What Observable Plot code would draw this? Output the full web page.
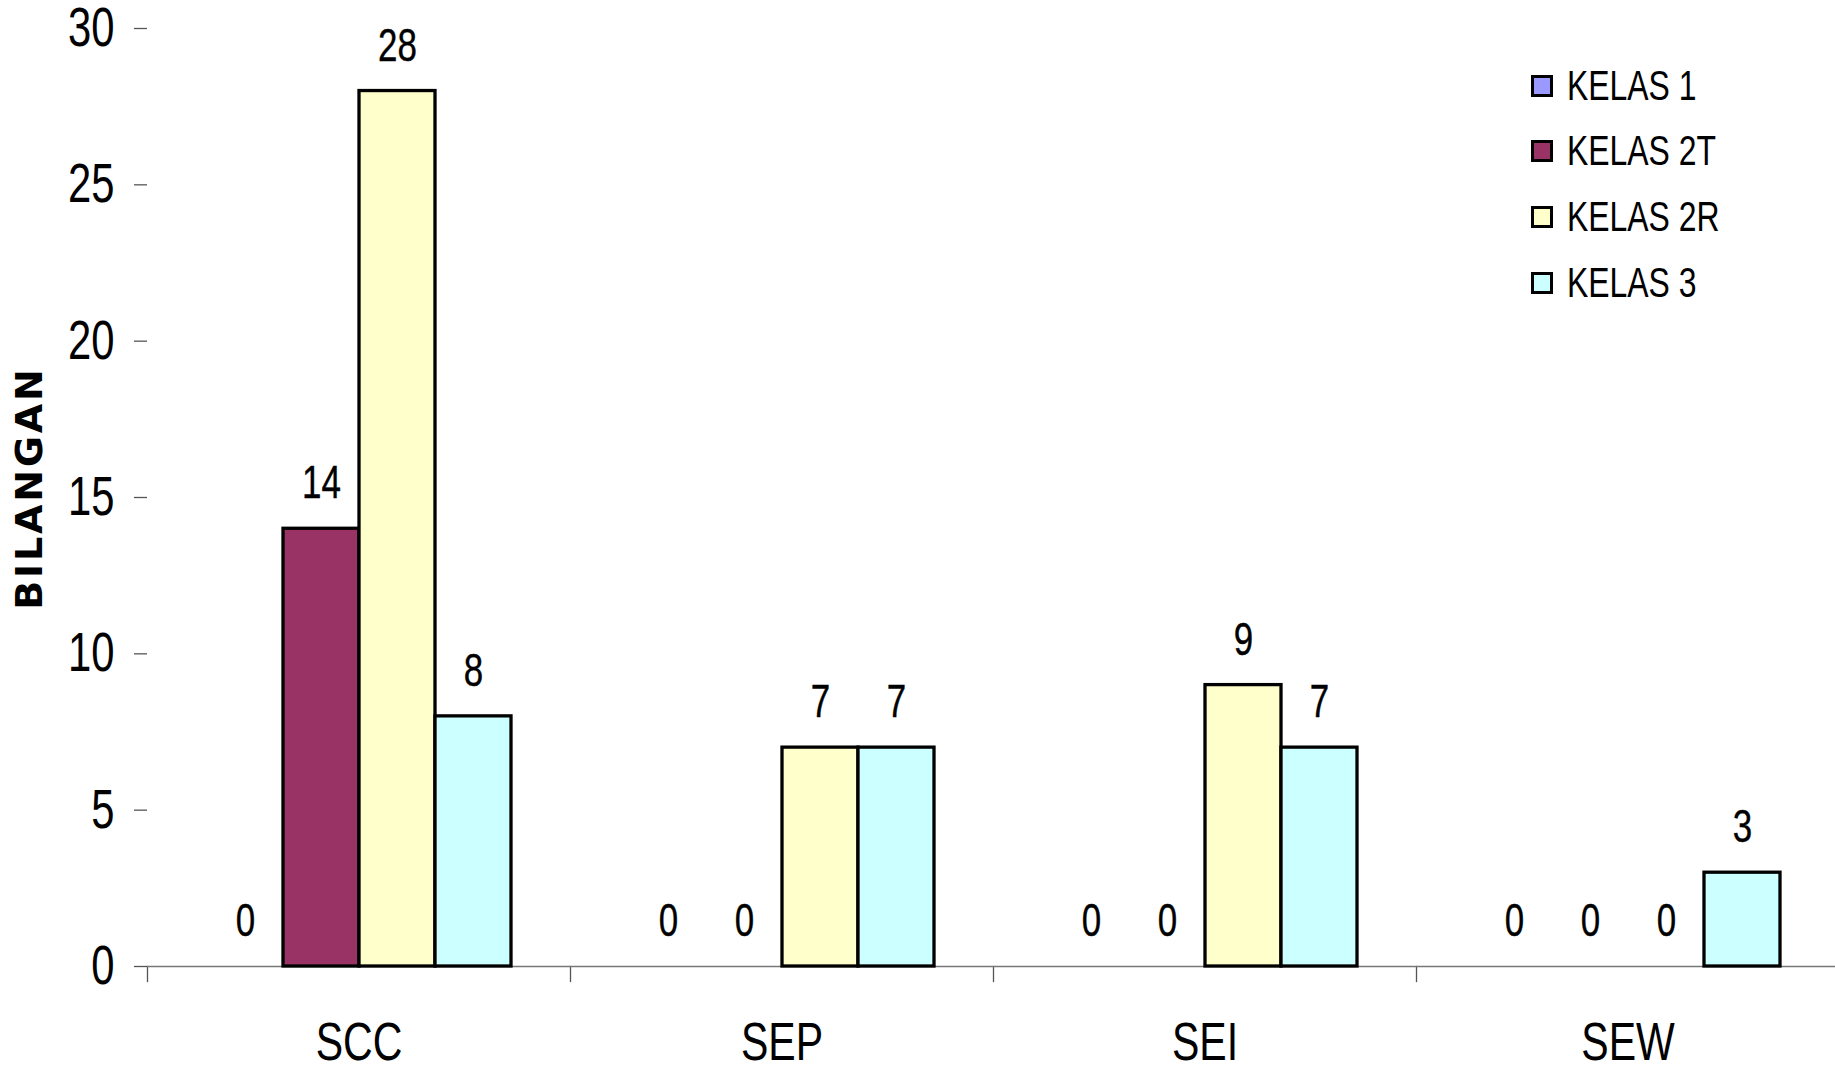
<!DOCTYPE html>
<html>
<head>
<meta charset="utf-8">
<script src="https://cdn.jsdelivr.net/npm/d3@7"></script>
<script src="https://cdn.jsdelivr.net/npm/@observablehq/plot@0.6"></script>
<style>
  html, body { margin: 0; padding: 0; background: #fff; }
  #wrap { position: relative; width: 1835px; height: 1071px; overflow: hidden; }
  #wrap svg { position: absolute; left: 0; top: 0; overflow: visible; }
  .ylab { position: absolute; left: 29px; top: 488px; transform: translate(-50%, -50%) rotate(-90deg);
          font-family: "DejaVu Sans", Verdana, sans-serif; font-weight: bold; font-size: 38px; white-space: nowrap; letter-spacing: 2.8px; }
  .legend { position: absolute; left: 1531px; top: 53px; font-family: "Liberation Sans", Arial, sans-serif; font-size: 42px; }
  .legend .row { display: flex; align-items: center; height: 65.6px; }
  .legend .sw { width: 22px; height: 22px; box-sizing: border-box; border: 3px solid #000; margin-right: 14px; flex: none; }
  .legend .lt { display: inline-block; transform: scaleX(0.76); transform-origin: left center; white-space: nowrap; }
</style>
</head>
<body>
<div id="wrap"></div>
<script>
const categories = ["SCC", "SEP", "SEI", "SEW"];
const series = ["KELAS 1", "KELAS 2T", "KELAS 2R", "KELAS 3"];
const colors = ["#9999FF", "#993366", "#FFFFCC", "#CCFFFF"];
const valuesKelas1  = [0, 0, 0, 0];
const valuesKelas2T = [14, 0, 0, 0];
const valuesKelas2R = [28, 7, 9, 0];
const valuesKelas3  = [8, 7, 7, 3];
const yTicks = [0, 5, 10, 15, 20, 25, 30];
const yLabel = "BILANGAN";

const seriesValues = [valuesKelas1, valuesKelas2T, valuesKelas2R, valuesKelas3];
const data = [];
categories.forEach((c, i) => series.forEach((s, j) => data.push({category: c, series: s, value: seriesValues[j][i]})));

const font = '"Liberation Sans", Arial, sans-serif';
const W = 1835, H = 1071, mTop = 28, mBottom = 105;

const chart = Plot.plot({
  width: W, height: H,
  marginLeft: 146, marginRight: -4, marginTop: mTop, marginBottom: mBottom,
  style: {fontFamily: font, background: "#fff", color: "#000", overflow: "visible"},
  fx: {domain: categories, padding: 0, axis: null, label: null},
  x: {domain: series, paddingInner: 0, paddingOuter: 0.77, axis: null},
  y: {domain: [0, 30], axis: null},
  color: {domain: series, range: colors},
  marks: [
    Plot.frame({anchor: "left", stroke: "#555", strokeWidth: 1.3, insetTop: H - mTop - mBottom, insetBottom: -15}),
    Plot.ruleY([0], {stroke: "#777", strokeWidth: 1.3}),
    Plot.barY(data.filter(d => d.value > 0), {x: "series", y: "value", fx: "category", fill: "series", stroke: "#000", strokeWidth: 3.3}),
    Plot.text(data, {x: "series", y: "value", fx: "category", text: d => String(d.value), dy: -45, fontSize: 46, fill: "#000", stroke: "#000", strokeWidth: 0.4}),
    Plot.axisY({ticks: yTicks, tickSize: 13, tickPadding: 20, fontSize: 55, label: null, line: true, stroke: "#555", strokeWidth: 1.3, tickFormat: d => String(d)}),
    Plot.axisFx({anchor: "bottom", tickSize: 0, tickPadding: 55, fontSize: 54, label: null})
  ]
});

// condense glyphs horizontally (narrow face of the original) around each text's anchor
const SX = 0.76;
d3.select(chart).selectAll("text").each(function() {
  const t = d3.select(this);
  const x = +(t.attr("x") || 0);
  const tr = t.attr("transform") || "";
  t.attr("transform", `${tr} translate(${x},0) scale(${SX},1) translate(${-x},0)`);
});

const wrap = document.getElementById("wrap");
wrap.appendChild(chart);

const yl = document.createElement("div");
yl.className = "ylab";
yl.textContent = yLabel;
wrap.appendChild(yl);

const legend = document.createElement("div");
legend.className = "legend";
series.forEach((s, i) => {
  const row = document.createElement("div");
  row.className = "row";
  const sw = document.createElement("div");
  sw.className = "sw";
  sw.style.background = colors[i];
  const t = document.createElement("span");
  t.className = "lt";
  t.textContent = s;
  row.appendChild(sw); row.appendChild(t);
  legend.appendChild(row);
});
wrap.appendChild(legend);
</script>
</body>
</html>
